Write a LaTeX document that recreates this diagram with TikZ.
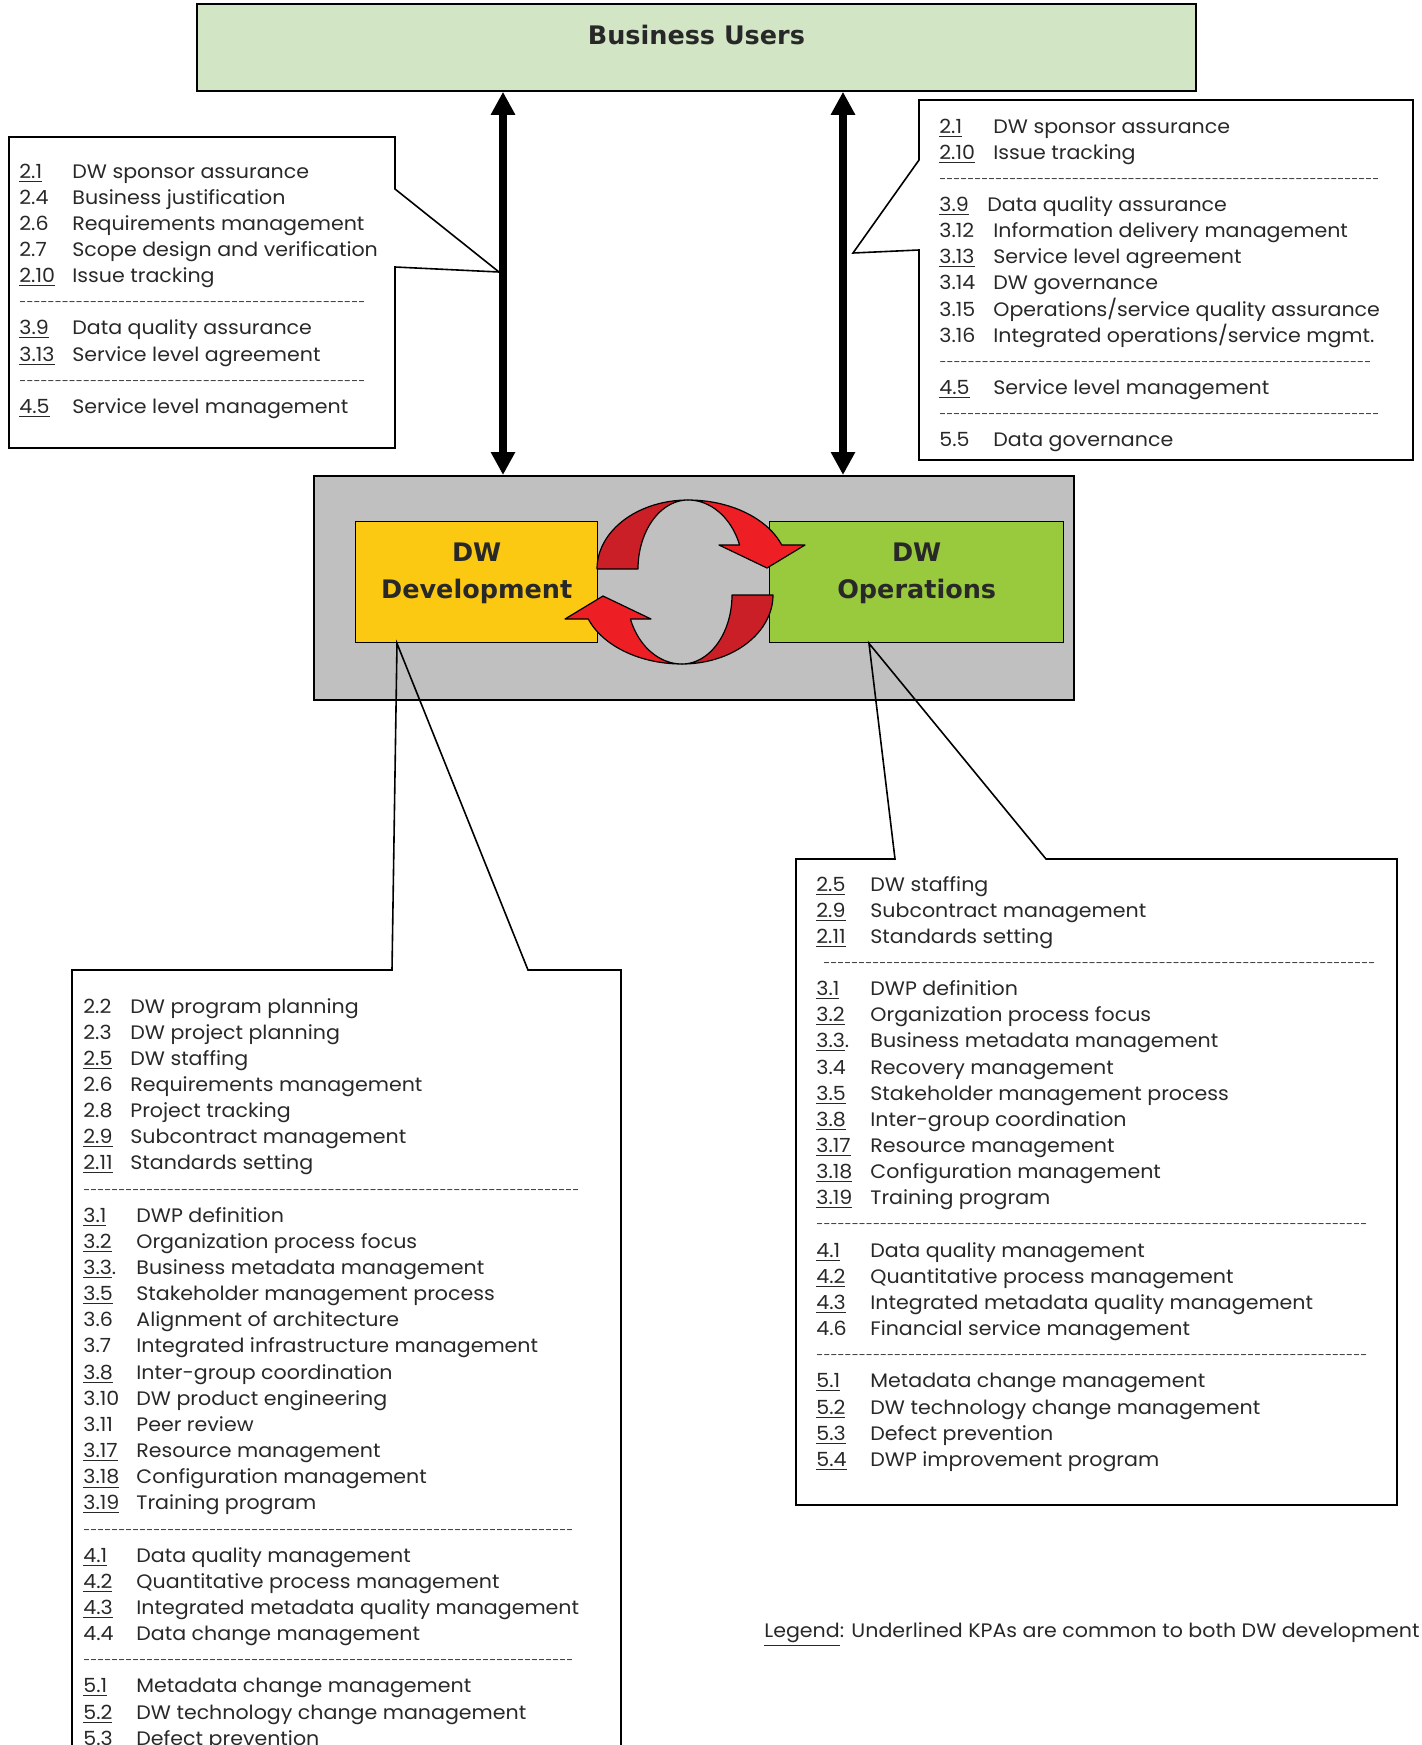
\documentclass[tikz,border=0pt]{standalone}
\usepackage{fontspec}
\setmainfont{Poppins}[FakeStretch=1.055]
\newfontfamily\headfont{DejaVu Sans}
\usetikzlibrary{arrows.meta}

\definecolor{usergreen}{RGB}{210,230,198}
\definecolor{coregray}{RGB}{192,192,192}
\definecolor{devyellow}{RGB}{252,201,18}
\definecolor{opsgreen}{RGB}{153,201,61}
\definecolor{ringdark}{RGB}{203,31,39}
\definecolor{ringbright}{RGB}{237,30,36}
\definecolor{inkgray}{RGB}{40,40,40}

\newcommand{\kpa}[3]{\makebox[#1][l]{#2}#3}
\newcommand{\kpasep}[1]{\hbox to #1{\xleaders\hbox{\raisebox{1pt}{\fontsize{6}{6}\selectfont -}}\hfil}}
\newcommand{\kpafont}{\fontsize{9.75}{13.075}\selectfont}

\begin{document}
\begin{tikzpicture}[x=0.5pt, y=-0.5pt,
  box/.style = {draw, line width=0.9pt, anchor=north west, inner sep=0pt},
  headtext/.style = {font=\headfont\bfseries\fontsize{12.75}{18.5}\selectfont, text=inkgray, inner sep=0pt, anchor=base},
  kpalist/.style = {anchor=base west, inner sep=0pt, font=\kpafont, text=inkgray},
  callout/.style = {draw, line width=0.8pt, line join=miter},
  biarrow/.style = {line width=4pt, {Triangle[length=11.5pt,width=11.5pt]}-{Triangle[length=11.5pt,width=11.5pt]}},
  ring/.style = {draw=black, line width=0.6pt, line join=round}
]
\useasboundingbox (0,0) rectangle (1421,1745);

\node[box, fill=usergreen, minimum width=499.5pt, minimum height=43.5pt] (users) at (196,3) {};
\node[headtext] (userslbl) at (users.north |- 0,44) {Business Users};

\node[box, fill=coregray, minimum width=380pt, minimum height=112pt] (core) at (313,475) {};
\node[box, line width=0.7pt, fill=devyellow, minimum width=121pt, minimum height=60.5pt] (dev) at (355,521) {};
\node[box, line width=0.7pt, fill=opsgreen, minimum width=147pt, minimum height=60.5pt] (ops) at (769,521) {};
\node[headtext] (devlbl) at (dev.north |- 0,561) {\begin{tabular}[t]{@{}c@{}}DW\\Development\end{tabular}};
\node[headtext] (opslbl) at (ops.north |- 0,561) {\begin{tabular}[t]{@{}c@{}}DW\\Operations\end{tabular}};

% the two turning arrows between development and operations
\begin{scope}
\filldraw[ring, fill=ringdark] plot[domain=180:270, samples=30, variable=\t] ({688+91*cos(\t)}, {569+69*sin(\t)})
  -- plot[domain=270:180, samples=30, variable=\t] ({688+50*cos(\t)}, {569+69*sin(\t)}) -- cycle;
\filldraw[ring, fill=ringbright] plot[domain=270:339.6, samples=30, variable=\t] ({688+100*cos(\t)}, {569+69*sin(\t)})
  -- (805,545) -- (767,568) -- (719,545)
  -- plot[domain=339.6:270, samples=30, variable=\t] ({688+55*cos(\t)}, {569+69*sin(\t)}) -- cycle;
\end{scope}
\begin{scope}[rotate around={180:(685,582)}]
\filldraw[ring, fill=ringdark] plot[domain=180:270, samples=30, variable=\t] ({688+91*cos(\t)}, {569+69*sin(\t)})
  -- plot[domain=270:180, samples=30, variable=\t] ({688+50*cos(\t)}, {569+69*sin(\t)}) -- cycle;
\filldraw[ring, fill=ringbright] plot[domain=270:339.6, samples=30, variable=\t] ({688+100*cos(\t)}, {569+69*sin(\t)})
  -- (805,545) -- (767,568) -- (719,545)
  -- plot[domain=339.6:270, samples=30, variable=\t] ({688+55*cos(\t)}, {569+69*sin(\t)}) -- cycle;
\end{scope}

\coordinate (lshaft) at (503,0);
\coordinate (rshaft) at (843,0);
\draw[biarrow] (users.south -| lshaft) -- (core.north -| lshaft);
\draw[biarrow] (users.south -| rshaft) -- (core.north -| rshaft);

% callout outlines
\draw[callout] (9,137) -- (395,137) -- (395,189) -- (499,272) -- (395,267) -- (395,448) -- (9,448) -- cycle;
\draw[callout] (919,100) -- (1413,100) -- (1413,460) -- (919,460) -- (919,250) -- (853,253) -- (919,160) -- cycle;
\draw[callout] (dev.south -| 397,0) -- (392,970) -- (72,970) -- (72,1760) -- (621,1760) -- (621,970) -- (528,970) -- cycle;
\draw[callout] (ops.south -| 869,0) -- (895,859) -- (796,859) -- (796,1505) -- (1397,1505) -- (1397,859) -- (1046,859) -- cycle;

\node[kpalist] (bizdev) at (19,178) {\begin{tabular}[t]{@{}l@{}}
\kpa{26.5pt}{\underline{2.1}}{DW sponsor assurance}\\
\kpa{26.5pt}{2.4}{Business justification}\\
\kpa{26.5pt}{2.6}{Requirements management}\\
\kpa{26.5pt}{2.7}{Scope design and verification}\\
\kpa{26.5pt}{\underline{2.10}}{Issue tracking}\\
\kpasep{173pt}\\
\kpa{26.5pt}{\underline{3.9}}{Data quality assurance}\\
\kpa{26.5pt}{\underline{3.13}}{Service level agreement}\\
\kpasep{173pt}\\
\kpa{26.5pt}{\underline{4.5}}{Service level management}
\end{tabular}};

\node[kpalist] (bizops) at (939,133) {\begin{tabular}[t]{@{}l@{}}
\kpa{27pt}{\underline{2.1}}{DW sponsor assurance}\\
\kpa{27pt}{\underline{2.10}}{Issue tracking}\\
\kpasep{220pt}\\
\kpa{24pt}{\underline{3.9}}{Data quality assurance}\\
\kpa{27pt}{3.12}{Information delivery management}\\
\kpa{27pt}{\underline{3.13}}{Service level agreement}\\
\kpa{27pt}{3.14}{DW governance}\\
\kpa{27pt}{3.15}{Operations/service quality assurance}\\
\kpa{27pt}{3.16}{Integrated operations/service mgmt.}\\
\kpasep{216pt}\\
\kpa{27pt}{\underline{4.5}}{Service level management}\\
\kpasep{220pt}\\
\kpa{27pt}{5.5}{Data governance}
\end{tabular}};

\node[kpalist] (devkpa) at (83,1013) {\begin{tabular}[t]{@{}l@{}}
\kpa{23.5pt}{2.2}{DW program planning}\\
\kpa{23.5pt}{2.3}{DW project planning}\\
\kpa{23.5pt}{\underline{2.5}}{DW staffing}\\
\kpa{23.5pt}{2.6}{Requirements management}\\
\kpa{23.5pt}{2.8}{Project tracking}\\
\kpa{23.5pt}{\underline{2.9}}{Subcontract management}\\
\kpa{23.5pt}{\underline{2.11}}{Standards setting}\\
\kpasep{248pt}\\
\kpa{26.5pt}{\underline{3.1}}{DWP definition}\\
\kpa{26.5pt}{\underline{3.2}}{Organization process focus}\\
\kpa{26.5pt}{\underline{3.3}.}{Business metadata management}\\
\kpa{26.5pt}{\underline{3.5}}{Stakeholder management process}\\
\kpa{26.5pt}{3.6}{Alignment of architecture}\\
\kpa{26.5pt}{3.7}{Integrated infrastructure management}\\
\kpa{26.5pt}{\underline{3.8}}{Inter-group coordination}\\
\kpa{26.5pt}{3.10}{DW product engineering}\\
\kpa{26.5pt}{3.11}{Peer review}\\
\kpa{26.5pt}{\underline{3.17}}{Resource management}\\
\kpa{26.5pt}{\underline{3.18}}{Configuration management}\\
\kpa{26.5pt}{\underline{3.19}}{Training program}\\
\kpasep{245pt}\\
\kpa{26.5pt}{\underline{4.1}}{Data quality management}\\
\kpa{26.5pt}{\underline{4.2}}{Quantitative process management}\\
\kpa{26.5pt}{\underline{4.3}}{Integrated metadata quality management}\\
\kpa{26.5pt}{4.4}{Data change management}\\
\kpasep{245pt}\\
\kpa{26.5pt}{\underline{5.1}}{Metadata change management}\\
\kpa{26.5pt}{\underline{5.2}}{DW technology change management}\\
\kpa{26.5pt}{5.3}{Defect prevention}
\end{tabular}};

\node[kpalist] (opskpa) at (816,891) {\begin{tabular}[t]{@{}l@{}}
\kpa{27pt}{\underline{2.5}}{DW staffing}\\
\kpa{27pt}{\underline{2.9}}{Subcontract management}\\
\kpa{27pt}{\underline{2.11}}{Standards setting}\\
\hspace{3.5pt}\kpasep{276pt}\\
\kpa{27pt}{\underline{3.1}}{DWP definition}\\
\kpa{27pt}{\underline{3.2}}{Organization process focus}\\
\kpa{27pt}{\underline{3.3}.}{Business metadata management}\\
\kpa{27pt}{3.4}{Recovery management}\\
\kpa{27pt}{\underline{3.5}}{Stakeholder management process}\\
\kpa{27pt}{\underline{3.8}}{Inter-group coordination}\\
\kpa{27pt}{\underline{3.17}}{Resource management}\\
\kpa{27pt}{\underline{3.18}}{Configuration management}\\
\kpa{27pt}{\underline{3.19}}{Training program}\\
\kpasep{275.5pt}\\
\kpa{27pt}{\underline{4.1}}{Data quality management}\\
\kpa{27pt}{\underline{4.2}}{Quantitative process management}\\
\kpa{27pt}{\underline{4.3}}{Integrated metadata quality management}\\
\kpa{27pt}{4.6}{Financial service management}\\
\kpasep{275.5pt}\\
\kpa{27pt}{\underline{5.1}}{Metadata change management}\\
\kpa{27pt}{\underline{5.2}}{DW technology change management}\\
\kpa{27pt}{\underline{5.3}}{Defect prevention}\\
\kpa{27pt}{\underline{5.4}}{DWP improvement program}
\end{tabular}};

\node[kpalist] (legend) at (764,1637) {\underline{Legend}: Underlined KPAs are common to both DW development};
\end{tikzpicture}
\end{document}
